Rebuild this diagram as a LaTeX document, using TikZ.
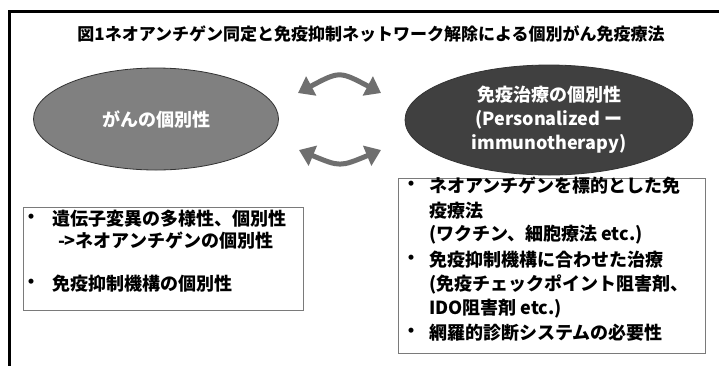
\documentclass[tikz,border=0pt]{standalone}
\usepackage{fontspec}
\setmainfont{Noto Sans CJK JP}
\usetikzlibrary{arrows.meta,shapes.geometric}
\definecolor{ellA}{HTML}{808080}
\definecolor{ellB}{HTML}{404040}
\definecolor{arrgray}{HTML}{6F6F6F}
\definecolor{boxgray}{HTML}{7A7A7A}
\begin{document}
\begin{tikzpicture}[x=1pt,y=-1pt,
  every node/.style={inner sep=0pt, outer sep=0pt},
  txt/.style={font=\bfseries\fontsize{18}{24}\selectfont, anchor=west},
  bul/.style={font=\bfseries\fontsize{18}{24}\selectfont, anchor=center},
  ellshape/.style={ellipse, draw=black!80, line width=0.8pt, text=white,
    font=\bfseries\fontsize{18}{24}\selectfont, align=center},
  bigarrow/.style={draw=arrgray, line width=5pt,
    {Triangle[length=15pt,width=21pt]}-{Triangle[length=15pt,width=21pt]}},
  textbox/.style={draw=boxgray, line width=1pt, fill=white}]
\useasboundingbox (0,0) rectangle (719,365);
\fill[white] (0,0) rectangle (719,365);
% frame
\draw[line width=3pt] (9.5,366) -- (9.5,11.5) -- (720,11.5);
% title
\node[font=\bfseries\fontsize{17}{20}\selectfont] (title) at (371,34)
  {図1ネオアンチゲン同定と免疫抑制ネットワーク解除による個別がん免疫療法};
% ellipses
\node[ellshape, fill=ellA, minimum width=245pt, minimum height=102pt] (cancer) at (156,119) {がんの個別性};
\node[ellshape, fill=ellB, minimum width=288pt, minimum height=110pt] (immuno) at (549,120)
  {免疫治療の個別性\\(Personalized ー\\immunotherapy)};
% arrows
\coordinate (u1) at (298,93);
\coordinate (u2) at (381,93);
\coordinate (l1) at (299,150);
\coordinate (l2) at (381,150);
\draw[bigarrow] (u1) .. controls (339.5,71) .. (u2);
\draw[bigarrow] (l1) .. controls (340,167) .. (l2);
% left box
\node[textbox, minimum width=280pt, minimum height=103pt] (lbox) at (163,258.5) {};
\node[bul] (lb1) at (31,219) {・};
\node[txt] (lt1) at (52,219) {遺伝子変異の多様性、個別性};
\node[txt] (lt2) at (58,241) {->ネオアンチゲンの個別性};
\node[bul] (lb2) at (31,284) {・};
\node[txt] (lt3) at (52,284) {免疫抑制機構の個別性};
% right box
\node[textbox, minimum width=307pt, minimum height=175pt] (rbox) at (551.5,265.5) {};
\node[bul] (rb1) at (411,186) {・};
\node[txt] (rt1) at (429,186) {ネオアンチゲンを標的とした免};
\node[txt] (rt2) at (429,210.5) {疫療法};
\node[txt] (rt3) at (429,235) {(ワクチン、細胞療法 etc.)};
\node[bul] (rb2) at (411,259.5) {・};
\node[txt] (rt4) at (429,259.5) {免疫抑制機構に合わせた治療};
\node[txt] (rt5) at (429,284) {(免疫チェックポイント阻害剤、};
\node[txt] (rt6) at (429,308.5) {IDO阻害剤 etc.)};
\node[bul] (rb3) at (411,333) {・};
\node[txt] (rt7) at (429,333) {網羅的診断システムの必要性};
\end{tikzpicture}
\end{document}
